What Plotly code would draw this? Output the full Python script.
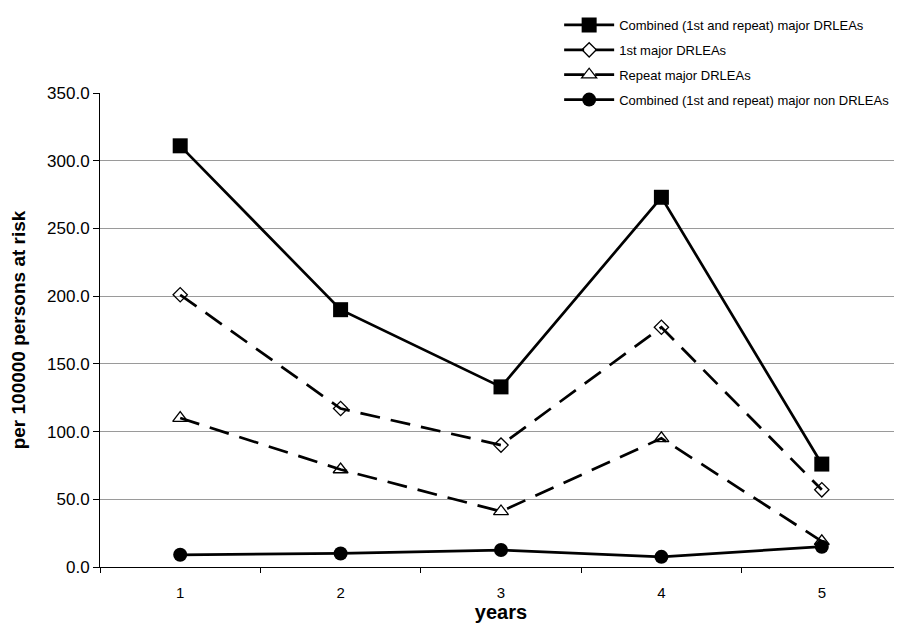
import plotly.graph_objects as go

years = [1, 2, 3, 4, 5]
year_labels = ["1", "2", "3", "4", "5"]
combined = [311, 190, 133, 273, 76]
first = [201, 117, 90, 177, 57]
repeat = [110, 72, 41, 95, 19]
non_drlea = [9, 10, 12.5, 7.5, 15]

names = [
    "Combined (1st and repeat) major DRLEAs",
    "1st major DRLEAs",
    "Repeat major DRLEAs",
    "Combined (1st and repeat) major non DRLEAs",
]

fig = go.Figure()
fig.add_trace(go.Scatter(x=years, y=combined, name=names[0], legendgroup="a",
                         mode="lines+markers",
                         line=dict(color="black", width=2.7),
                         marker=dict(symbol="square", size=15, color="black")))
fig.add_trace(go.Scatter(x=years, y=first, name=names[1], legendgroup="b",
                         mode="lines+markers",
                         line=dict(color="black", width=2.7, dash="20px,11px"),
                         marker=dict(symbol="diamond-open", size=11, color="black",
                                     line=dict(width=1.3))))
fig.add_trace(go.Scatter(x=years, y=repeat, name=names[2], legendgroup="c",
                         mode="lines+markers",
                         line=dict(color="black", width=2.7, dash="20px,11px"),
                         marker=dict(symbol="triangle-up-open", size=13, color="black",
                                     line=dict(width=1.3))))
fig.add_trace(go.Scatter(x=years, y=non_drlea, name=names[3], legendgroup="d",
                         mode="lines+markers",
                         line=dict(color="black", width=2.7),
                         marker=dict(symbol="circle", size=14, color="black")))

fig.update_layout(
    width=894, height=617,
    margin=dict(l=92, r=0, t=85, b=58, autoexpand=False),
    paper_bgcolor="white", plot_bgcolor="white",
    font=dict(family="Liberation Sans, Arial", size=14, color="black"),
    showlegend=True,
    legend=dict(x=0.5725, y=0.9968, xanchor="left", yanchor="top", yref="container",
                bgcolor="rgba(0,0,0,0)", tracegroupgap=5, itemwidth=50,
                font=dict(size=13)),
)
fig.update_xaxes(
    range=[0.5, 5.5], tickvals=years, ticktext=year_labels, ticks="",
    showline=True, linecolor="black", linewidth=1, showgrid=False, zeroline=False,
    minor=dict(tickvals=[0.5, 1.5, 2.5, 3.5, 4.5, 5.5], ticks="outside", ticklen=5,
               tickcolor="black", showgrid=False),
    ticklabelstandoff=12,
    title=dict(text="<b>years</b>", font=dict(size=20), standoff=2),
    tickfont=dict(size=15),
)
fig.update_yaxes(
    range=[0, 350], dtick=50, tickformat=".1f",
    showline=True, linecolor="black", linewidth=1,
    ticks="outside", ticklen=6, tickcolor="black",
    showgrid=True, gridcolor="#9a9a9a", gridwidth=1, zeroline=False,
    title=dict(text="<b>per 100000 persons at risk</b>", font=dict(size=19), standoff=24),
    tickfont=dict(size=17),
)

fig.write_html("out.html")
